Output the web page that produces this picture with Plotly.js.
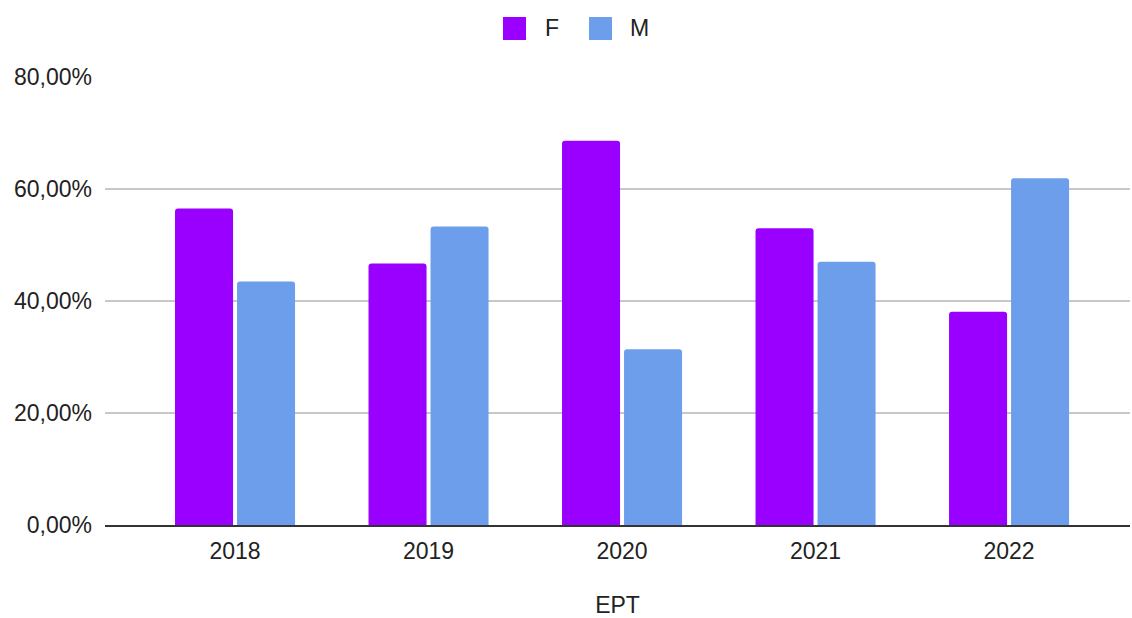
<!DOCTYPE html>
<html>
<head>
<meta charset="utf-8">
<script src="https://cdn.plot.ly/plotly-3.0.1.min.js"></script>
<style>html,body{margin:0;padding:0;background:#fff;}#chart{width:1132px;height:618px;}</style>
</head>
<body>
<div id="chart"></div>
<script>
const years = ["2018", "2019", "2020", "2021", "2022"];
const seriesNames = ["F", "M"];
const femaleValues = [56.5, 46.7, 68.6, 53.0, 38.1];
const maleValues = [43.5, 53.3, 31.4, 47.0, 61.9];
const seriesColors = ["#9900ff", "#6d9eeb"];
const yTicks = [0, 20, 40, 60, 80];
const xTitle = "EPT";

const W = 1132, H = 618;
const L = 105, R = 2, T = 77, B = 93;
const pw = W - L - R, ph = H - T - B;
const px = v => (v - L) / pw;
const py = v => (H - B - v) / ph;

const font = "Arial, 'Liberation Sans', sans-serif";
const fs = 23;
const txtColor = "#222222";

const yTickText = yTicks.map(v => v.toFixed(2).replace(".", ",") + "%");

const traces = [femaleValues, maleValues].map((vals, i) => ({
  type: "bar",
  x: years,
  y: vals,
  name: seriesNames[i],
  marker: { color: seriesColors[i], line: { width: 0 } },
  hoverinfo: "x+y+name",
  showlegend: false
}));

// custom legend (squares + real text)
const legendItems = [
  { sq: [503, 526], text: 543 },
  { sq: [589, 612], text: 628 }
];
const shapes = legendItems.map((it, i) => ({
  type: "rect", xref: "paper", yref: "paper",
  x0: px(it.sq[0]), x1: px(it.sq[1]), y0: py(40), y1: py(17),
  fillcolor: seriesColors[i], line: { width: 0 }
}));
const annotations = legendItems.map((it, i) => ({
  xref: "paper", yref: "paper", x: px(it.text), y: py(28.5),
  xanchor: "left", yanchor: "middle", showarrow: false,
  text: seriesNames[i], font: { family: font, size: fs, color: txtColor }
}));

const layout = {
  width: W, height: H,
  margin: { l: L, r: R, t: T, b: B, pad: 0 },
  paper_bgcolor: "#ffffff", plot_bgcolor: "#ffffff",
  barmode: "group", bargap: 0.359, bargroupgap: 0.0645,
  barcornerradius: 3,
  font: { family: font, size: fs, color: txtColor },
  showlegend: false,
  xaxis: {
    type: "category",
    range: [-0.672, 4.625],
    showgrid: false, zeroline: false,
    showline: true, linecolor: "#333333", linewidth: 2,
    ticks: "", ticklabelstandoff: 4,
    tickfont: { family: font, size: fs, color: txtColor },
    title: { text: xTitle, standoff: 38, font: { family: font, size: fs, color: txtColor } }
  },
  yaxis: {
    range: [0, 80],
    tickmode: "array",
    tickvals: yTicks,
    ticktext: yTickText,
    showgrid: true, gridcolor: "#c8c8c8", gridwidth: 1.3,
    zeroline: false, showline: false,
    ticks: "", ticklabelstandoff: 12,
    tickfont: { family: font, size: fs, color: txtColor }
  },
  shapes: shapes,
  annotations: annotations
};

Plotly.newPlot("chart", traces, layout, { displayModeBar: false, staticPlot: true });
</script>
</body>
</html>
